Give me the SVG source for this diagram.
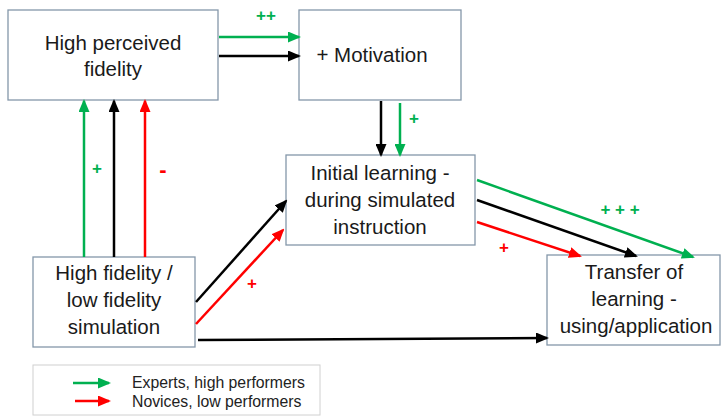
<svg xmlns="http://www.w3.org/2000/svg" width="721" height="417" viewBox="0 0 721 417">
<style>
.box{fill:#fff;stroke:#8497aa;stroke-width:1.3}
.t{font-family:"Liberation Sans",Arial,sans-serif;font-size:20.5px;fill:#1a1a1a;text-anchor:middle}
.lg{font-family:"Liberation Sans",Arial,sans-serif;font-size:15.8px;fill:#222}
.g{stroke:#00b050;stroke-width:2.5;fill:none;marker-end:url(#ag)}
.k{stroke:#000;stroke-width:2.5;fill:none;marker-end:url(#ak)}
.r{stroke:#ff0000;stroke-width:2.5;fill:none;marker-end:url(#ar)}
.lab{font-family:"Liberation Sans",Arial,sans-serif;font-size:17px;font-weight:bold}
</style>
<defs>
<marker id="ag" viewBox="0 0 13 11" refX="11" refY="5.5" markerWidth="13" markerHeight="11" markerUnits="userSpaceOnUse" orient="auto"><path d="M0,0L13,5.5L0,11z" fill="#00b050"/></marker>
<marker id="ak" viewBox="0 0 13 11" refX="11" refY="5.5" markerWidth="13" markerHeight="11" markerUnits="userSpaceOnUse" orient="auto"><path d="M0,0L13,5.5L0,11z" fill="#000"/></marker>
<marker id="ar" viewBox="0 0 13 11" refX="11" refY="5.5" markerWidth="13" markerHeight="11" markerUnits="userSpaceOnUse" orient="auto"><path d="M0,0L13,5.5L0,11z" fill="#ff0000"/></marker>
</defs>
<rect width="721" height="417" fill="#fff"/>
<g id="n-perceived"><rect class="box" x="8" y="10" width="210" height="90"/><text class="t" x="113" y="50">High perceived</text><text class="t" x="113" y="76">fidelity</text></g>
<g id="n-motivation"><rect class="box" x="299" y="10" width="162" height="90"/><text class="t" x="372" y="62">+ Motivation</text></g>
<g id="n-initial"><rect class="box" x="286" y="155" width="189" height="90"/><text class="t" x="380" y="180">Initial learning -</text><text class="t" x="380" y="207">during simulated</text><text class="t" x="380" y="234">instruction</text></g>
<g id="n-simulation"><rect class="box" x="33" y="257" width="162" height="90"/><text class="t" x="114" y="280">High fidelity /</text><text class="t" x="114" y="307">low fidelity</text><text class="t" x="114" y="334">simulation</text></g>
<g id="n-transfer"><rect class="box" x="547" y="255" width="173" height="90"/><text class="t" x="634" y="279">Transfer of</text><text class="t" x="634" y="306">learning -</text><text class="t" x="636" y="333">using/application</text></g>
<g id="connectors">
<line class="g" x1="219" y1="37" x2="299" y2="37"/>
<line class="k" x1="219" y1="56" x2="299" y2="56"/>
<line class="k" x1="381" y1="101" x2="381" y2="155"/>
<line class="g" x1="400" y1="103" x2="400" y2="155"/>
<line class="g" x1="84" y1="257" x2="84" y2="101"/>
<line class="k" x1="114" y1="257" x2="114" y2="101"/>
<line class="r" x1="145" y1="257" x2="145" y2="101"/>
<line class="k" x1="196" y1="302" x2="286" y2="201"/>
<line class="r" x1="196" y1="324" x2="283" y2="230"/>
<line class="g" x1="477" y1="180" x2="693" y2="257"/>
<line class="k" x1="477" y1="200" x2="636" y2="256"/>
<line class="r" x1="477" y1="222" x2="580" y2="256"/>
<line class="k" x1="198" y1="340" x2="547" y2="338"/>
</g>
<g id="labels">
<text class="lab" x="266" y="21" fill="#00b050" text-anchor="middle">++</text>
<text class="lab" x="414" y="124" fill="#00b050" text-anchor="middle">+</text>
<text class="lab" x="97" y="174" fill="#00b050" text-anchor="middle">+</text>
<text class="lab" x="163" y="177" fill="#ff0000" text-anchor="middle" style="font-size:22px">-</text>
<text class="lab" x="252" y="289" fill="#ff0000" text-anchor="middle">+</text>
<text class="lab" x="620" y="215" fill="#00b050" text-anchor="middle">+ + +</text>
<text class="lab" x="504" y="253" fill="#ff0000" text-anchor="middle">+</text>
</g>
<g id="legend">
<rect x="33" y="365" width="287" height="50" fill="#fff" stroke="#d0d0d0" stroke-width="1"/>
<line class="g" x1="73" y1="383" x2="109" y2="383"/>
<line class="r" x1="75" y1="401" x2="109" y2="401"/>
<text class="lg" x="132" y="388">Experts, high performers</text>
<text class="lg" x="132" y="407">Novices, low performers</text>
</g>
</svg>
